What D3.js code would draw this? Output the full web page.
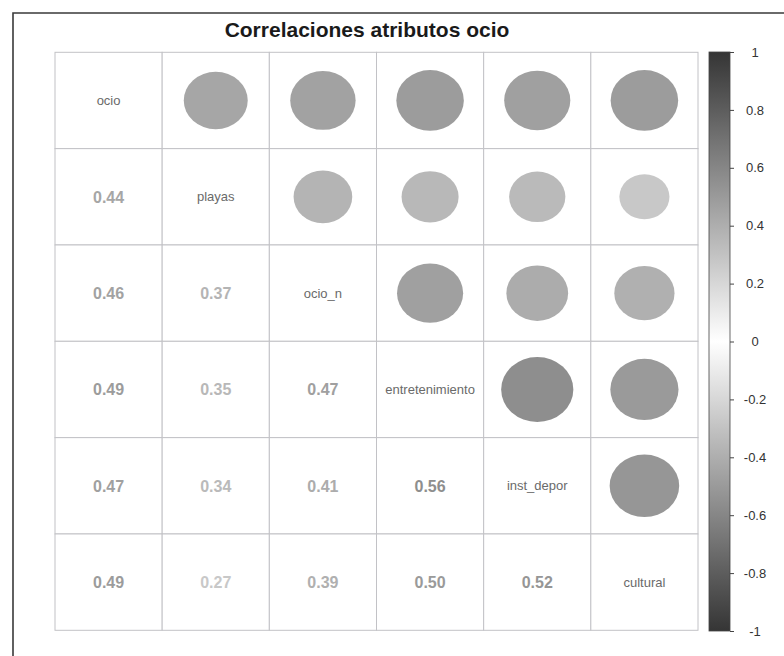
<!DOCTYPE html>
<html>
<head>
<meta charset="utf-8">
<script src="https://cdn.jsdelivr.net/npm/d3@7/dist/d3.min.js"></script>
<style>
  html, body { margin: 0; padding: 0; background: #fff; }
  svg { display: block; font-family: "Liberation Sans", Arial, sans-serif; }
</style>
</head>
<body>
<svg id="chart" width="784" height="656"></svg>
<script>
// Variables of the leisure attributes block
const variables = ["ocio", "playas", "ocio_n", "entretenimiento", "inst_depor", "cultural"];

// Correlation matrix rows (symmetric)
const rowOcio            = [1.00, 0.44, 0.46, 0.49, 0.47, 0.49];
const rowPlayas          = [0.44, 1.00, 0.37, 0.35, 0.34, 0.27];
const rowOcioN           = [0.46, 0.37, 1.00, 0.47, 0.41, 0.39];
const rowEntretenimiento = [0.49, 0.35, 0.47, 1.00, 0.56, 0.50];
const rowInstDepor       = [0.47, 0.34, 0.41, 0.56, 1.00, 0.52];
const rowCultural        = [0.49, 0.27, 0.39, 0.50, 0.52, 1.00];
const corrRows = [rowOcio, rowPlayas, rowOcioN, rowEntretenimiento, rowInstDepor, rowCultural];

// Colour legend ticks
const legendTicks = [1, 0.8, 0.6, 0.4, 0.2, 0, -0.2, -0.4, -0.6, -0.8, -1];

const title = "Correlaciones atributos ocio";

const svg = d3.select("#chart");

// Outer frame
svg.append("path")
  .attr("d", "M13,700 L13,13 L800,13")
  .attr("fill", "none")
  .attr("stroke", "#3a3a3a")
  .attr("stroke-width", 1.6);

// Title
svg.append("text")
  .attr("x", 367).attr("y", 37)
  .attr("text-anchor", "middle")
  .attr("font-size", 21)
  .attr("font-weight", "bold")
  .attr("fill", "#1a1a1a")
  .text(title);

// Scales
const x = d3.scaleBand().domain(variables).range([55, 698]);
const y = d3.scaleBand().domain(variables).range([52.3, 630.3]);
const color = d3.scaleLinear()
  .domain([-1, 0, 1])
  .range(["#353535", "#ffffff", "#353535"])
  .interpolate(d3.interpolateRgb);

// Cells
const cells = [];
corrRows.forEach((row, i) => {
  row.forEach((v, j) => {
    cells.push({ row: variables[i], col: variables[j], i, j, v });
  });
});

const g = svg.append("g");

g.selectAll("rect.cell")
  .data(cells)
  .join("rect")
  .attr("class", "cell")
  .attr("x", d => x(d.col))
  .attr("y", d => y(d.row))
  .attr("width", x.bandwidth())
  .attr("height", y.bandwidth())
  .attr("fill", "#fff")
  .attr("stroke", "#c2c2c6")
  .attr("stroke-width", 1);

// Upper triangle: ellipses sized by |r|
g.selectAll("ellipse.corr")
  .data(cells.filter(d => d.j > d.i))
  .join("ellipse")
  .attr("class", "corr")
  .attr("cx", d => x(d.col) + x.bandwidth() / 2)
  .attr("cy", d => y(d.row) + y.bandwidth() / 2)
  .attr("rx", d => 0.45 * Math.sqrt(Math.abs(d.v)) * x.bandwidth())
  .attr("ry", d => 0.45 * Math.sqrt(Math.abs(d.v)) * y.bandwidth())
  .attr("fill", d => color(d.v));

// Lower triangle: coefficients
g.selectAll("text.coef")
  .data(cells.filter(d => d.j < d.i))
  .join("text")
  .attr("class", "coef")
  .attr("x", d => x(d.col) + x.bandwidth() / 2)
  .attr("y", d => y(d.row) + y.bandwidth() / 2)
  .attr("dy", "0.36em")
  .attr("text-anchor", "middle")
  .attr("font-size", 16)
  .attr("font-weight", "bold")
  .attr("fill", d => color(d.v))
  .text(d => d3.format(".2f")(d.v));

// Diagonal: variable names
g.selectAll("text.name")
  .data(cells.filter(d => d.j === d.i))
  .join("text")
  .attr("class", "name")
  .attr("x", d => x(d.col) + x.bandwidth() / 2)
  .attr("y", d => y(d.row) + y.bandwidth() / 2)
  .attr("dy", "0.35em")
  .attr("text-anchor", "middle")
  .attr("font-size", 13)
  .attr("fill", "#6a6a6a")
  .text(d => d.row);

// Colour legend
const legendY = d3.scaleLinear().domain([1, -1]).range([52, 631]);
const defs = svg.append("defs");
const grad = defs.append("linearGradient")
  .attr("id", "corrGrad")
  .attr("x1", 0).attr("y1", 0).attr("x2", 0).attr("y2", 1);
d3.range(0, 21).forEach(k => {
  const v = 1 - k * 0.1;
  grad.append("stop")
    .attr("offset", (k / 20))
    .attr("stop-color", color(v));
});

svg.append("rect")
  .attr("x", 709).attr("y", legendY(1))
  .attr("width", 21).attr("height", legendY(-1) - legendY(1))
  .attr("fill", "url(#corrGrad)")
  .attr("stroke", "#444")
  .attr("stroke-width", 0.8);

const legendAxis = d3.axisRight(legendY)
  .tickValues(legendTicks)
  .tickSize(4)
  .tickFormat(d => String(d));

const axisG = svg.append("g")
  .attr("transform", "translate(730,0)")
  .call(legendAxis);
axisG.attr("font-size", 13).attr("font-family", "'Liberation Sans', Arial, sans-serif");
axisG.select(".domain").remove();
axisG.selectAll(".tick line").attr("stroke", "#444");
axisG.selectAll(".tick text")
  .attr("x", 25)
  .attr("text-anchor", "middle")
  .attr("fill", "#333");
</script>
</body>
</html>
